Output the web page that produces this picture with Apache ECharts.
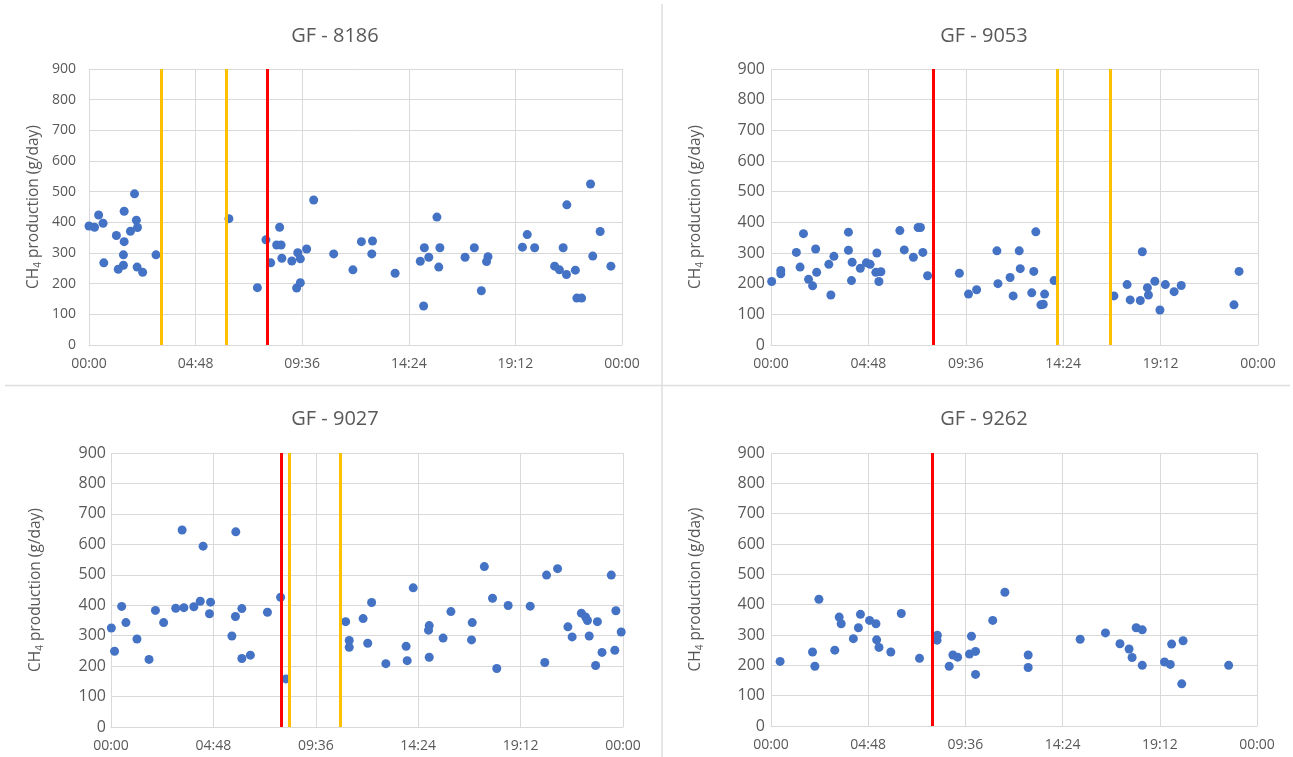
<!DOCTYPE html>
<html>
<head>
<meta charset="utf-8">
<script src="https://cdn.jsdelivr.net/npm/echarts@6/dist/echarts.min.js"></script>
<style>
html,body{margin:0;padding:0;background:#fff;}
#chart{width:1293px;height:757px;}
</style>
</head>
<body>
<div id="chart"></div>
<script>
// ---- Data (time of day in minutes since 00:00, CH4 production in g/day) ----
const panelTitles = ['GF - 8186', 'GF - 9053', 'GF - 9027', 'GF - 9262'];
const xTickLabels = ['00:00', '04:48', '09:36', '14:24', '19:12', '00:00'];
const yTicks = [0, 100, 200, 300, 400, 500, 600, 700, 800, 900];

const gf8186_time = [0,15,26,38,40,74,95,95,93,79,93,112,123,128,131,130,145,181,378,455,478,491,515,507,519,521,548,564,571,561,571,588,607,661,713,736,766,764,827,906,895,918,940,948,945,904,1016,1041,1078,1074,1060,1171,1184,1204,1258,1271,1290,1281,1291,1314,1318,1331,1355,1361,1381,1410];
const gf8186_ch4  = [388,384,424,397,268,357,436,337,294,247,260,371,493,407,383,254,237,294,412,187,343,268,384,326,326,283,274,301,281,186,203,313,473,297,245,337,339,297,234,317,273,286,417,317,254,127,286,317,288,272,177,319,360,317,257,245,230,317,457,244,153,153,525,290,370,257];
const gf8186_red = [481];
const gf8186_yellow = [194, 370];

const gf9053_time = [2,29,29,75,86,96,111,123,132,135,171,177,186,229,229,240,238,264,282,293,313,310,325,319,381,394,421,435,442,449,463,557,584,608,668,671,707,716,734,737,777,771,783,798,805,809,837,1014,1053,1062,1092,1098,1113,1116,1135,1150,1166,1192,1213,1369,1384];
const gf9053_ch4  = [207,243,232,302,254,363,214,193,313,237,263,163,289,368,309,270,210,250,268,263,300,237,239,207,373,310,286,383,383,302,226,234,166,180,307,200,220,160,307,249,240,170,369,131,133,166,210,160,197,147,145,304,187,163,208,114,197,174,194,131,240];
const gf9053_red = [481];
const gf9053_yellow = [845, 1002];

const gf9027_time = [1,10,30,42,73,107,125,148,182,200,205,233,251,259,280,277,340,351,350,368,368,392,440,477,492,660,670,670,709,733,722,773,830,833,850,895,893,895,934,956,1016,1014,1050,1073,1085,1117,1179,1220,1225,1256,1285,1297,1323,1335,1340,1345,1368,1363,1381,1407,1420,1417,1435];
const gf9027_ch4  = [325,249,396,343,289,222,383,343,390,647,392,395,413,594,410,372,299,641,363,389,225,236,377,426,158,346,284,262,356,409,275,208,265,218,457,333,318,229,292,379,343,286,527,423,192,399,397,212,499,520,329,296,374,361,350,299,346,202,245,499,382,252,312];
const gf9027_red = [480];
const gf9027_yellow = [501, 646];

const gf9262_time = [27,123,130,142,189,202,208,244,259,265,292,311,313,320,355,386,440,493,492,528,539,553,588,594,606,606,657,693,762,762,916,991,1034,1061,1070,1082,1100,1100,1166,1183,1187,1221,1217,1356];
const gf9262_ch4  = [213,244,197,418,250,359,337,288,324,368,348,337,284,259,244,371,223,299,283,197,234,227,237,296,246,170,348,441,234,193,286,307,271,254,226,324,317,200,211,203,270,281,139,200];
const gf9262_red = [478];
const gf9262_yellow = [];

// ---- Build ----
const panels = [
  {t: gf8186_time, v: gf8186_ch4, red: gf8186_red, yellow: gf8186_yellow},
  {t: gf9053_time, v: gf9053_ch4, red: gf9053_red, yellow: gf9053_yellow},
  {t: gf9027_time, v: gf9027_ch4, red: gf9027_red, yellow: gf9027_yellow},
  {t: gf9262_time, v: gf9262_ch4, red: gf9262_red, yellow: gf9262_yellow}
];

const layout = [
  {grid: {left: 89, top: 69, width: 533, height: 276}, title: {x: 330, y: 21}, yLabMargin: 13, yLabSize: 14, nameGap: 46},
  {grid: {left: 771, top: 69, width: 487, height: 276}, title: {x: 979, y: 21}, yLabMargin: 6, yLabSize: 16, nameGap: 66},
  {grid: {left: 111, top: 453, width: 512, height: 274}, title: {x: 330, y: 404}, yLabMargin: 5, yLabSize: 16, nameGap: 66},
  {grid: {left: 771, top: 453, width: 486, height: 273}, title: {x: 979, y: 404}, yLabMargin: 6, yLabSize: 16, nameGap: 66}
];

const FONT = 'Open Sans';
const TXT = '#595959';
const GRIDC = '#d9d9d9';

const option = {
  animation: false,
  backgroundColor: '#ffffff',
  title: panelTitles.map((s, i) => ({
    text: s, left: layout[i].title.x, top: layout[i].title.y, textAlign: 'center',
    textStyle: {fontFamily: FONT, fontSize: 20, fontWeight: 'normal', color: TXT}
  })),
  grid: layout.map(l => Object.assign({containLabel: false}, l.grid)),
  xAxis: layout.map((l, i) => ({
    type: 'value', gridIndex: i, min: 0, max: 1440, interval: 288,
    axisLine: {show: true, lineStyle: {color: GRIDC, width: 1}},
    axisTick: {show: false},
    splitLine: {show: true, lineStyle: {color: GRIDC, width: 1}},
    axisLabel: {
      fontFamily: FONT, fontSize: 14, color: TXT, margin: 12,
      formatter: v => xTickLabels[Math.round(v / 288)]
    }
  })),
  yAxis: layout.map((l, i) => ({
    type: 'value', gridIndex: i, min: yTicks[0], max: yTicks[yTicks.length - 1], interval: 100,
    name: 'CH{sub|4} production (g/day)', nameLocation: 'middle', nameGap: l.nameGap, nameRotate: 90,
    nameTextStyle: {
      fontFamily: FONT, fontSize: 15.5, color: TXT,
      rich: {sub: {fontFamily: FONT, fontSize: 10, color: TXT, verticalAlign: 'bottom', padding: [8, 0, 0, 0]}}
    },
    axisLine: {show: false},
    axisTick: {show: false},
    splitLine: {show: true, lineStyle: {color: GRIDC, width: 1}},
    axisLabel: {fontFamily: FONT, fontSize: l.yLabSize, color: TXT, margin: l.yLabMargin}
  })),
  graphic: [
    {type: 'line', shape: {x1: 662, y1: 4, x2: 662, y2: 757}, style: {stroke: '#dedede', lineWidth: 1.5}, silent: true},
    {type: 'line', shape: {x1: 5, y1: 385.5, x2: 1290, y2: 385.5}, style: {stroke: '#dedede', lineWidth: 1.5}, silent: true}
  ],
  series: []
};

panels.forEach((p, i) => {
  option.series.push({
    type: 'scatter', xAxisIndex: i, yAxisIndex: i,
    symbol: 'circle', symbolSize: 9,
    itemStyle: {color: '#4472C4', opacity: 1},
    data: p.t.map((t, k) => [t, p.v[k]]),
    z: 2, silent: true
  });
  const md = [];
  p.yellow.forEach(x => md.push({xAxis: x, lineStyle: {color: '#FFC000', width: 3, type: 'solid'}}));
  p.red.forEach(x => md.push({xAxis: x, lineStyle: {color: '#FF0000', width: 3, type: 'solid'}}));
  option.series.push({
    type: 'scatter', xAxisIndex: i, yAxisIndex: i, data: [], z: 5, silent: true,
    markLine: {silent: true, symbol: ['none', 'none'], label: {show: false}, animation: false,
      emphasis: {disabled: true}, data: md}
  });
});

const chart = echarts.init(document.getElementById('chart'), null, {renderer: 'canvas'});
chart.setOption(option);
</script>
</body>
</html>
